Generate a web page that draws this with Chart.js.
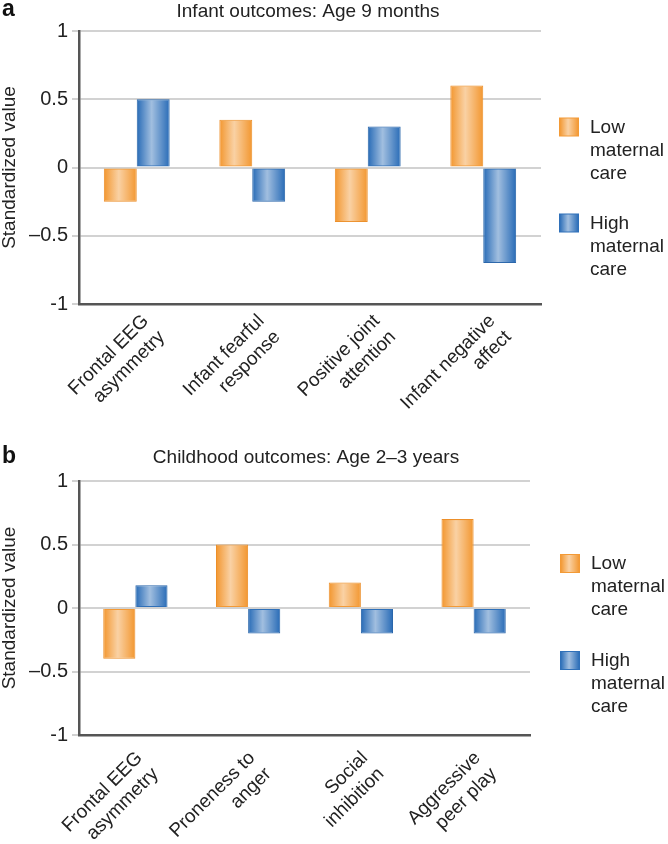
<!DOCTYPE html>
<html><head><meta charset="utf-8">
<script src="https://cdn.jsdelivr.net/npm/chart.js@4/dist/chart.umd.min.js"></script>
<style>
html,body{margin:0;padding:0;background:#fff;}
#wrap{position:relative;width:668px;height:844px;}
.c{position:absolute;left:0;width:668px;}
</style></head><body>
<div id="wrap">
<div class="c" style="top:0;height:440px"><canvas id="ca"></canvas></div>
<div class="c" style="top:440px;height:404px"><canvas id="cb"></canvas></div>
</div>
<script>
// ---- data ----
const seriesNames = ['Low maternal care', 'High maternal care'];
const seriesLegendLines = [['Low', 'maternal', 'care'], ['High', 'maternal', 'care']];
const infantCategories = [['Frontal EEG', 'asymmetry'], ['Infant fearful', 'response'], ['Positive joint', 'attention'], ['Infant negative', 'affect']];
const infantLow = [-0.25, 0.35, -0.4, 0.6];
const infantHigh = [0.5, -0.25, 0.3, -0.7];
const childCategories = [['Frontal EEG', 'asymmetry'], ['Proneness to', 'anger'], ['Social', 'inhibition'], ['Aggressive', 'peer play']];
const childLow = [-0.4, 0.5, 0.2, 0.7];
const childHigh = [0.18, -0.2, -0.2, -0.2];
const yTickValues = [-1, -0.5, 0, 0.5, 1];
const yTickLabels = ['-1', '\u20130.5', '0', '0.5', '1'];
const panelTitles = ['Infant outcomes: Age 9 months', 'Childhood outcomes: Age 2\u20133 years'];
const panelLetters = ['a', 'b'];
const yAxisTitle = 'Standardized value';

// ---- styles ----
const FONT = '"Liberation Sans", Arial, Helvetica, sans-serif';
const ORANGE = '#F39A36', ORANGE_B = '#EC8F2A';
const BLUE = '#2F70B9', BLUE_B = '#2A66AA';
const TEXT = '#222222';

function shadeRect(ctx, left, top, w, h) {
  const g = ctx.createLinearGradient(left, 0, left + w, 0);
  g.addColorStop(0, 'rgba(255,255,255,0)');
  g.addColorStop(0.45, 'rgba(255,255,255,0.55)');
  g.addColorStop(1, 'rgba(255,255,255,0)');
  ctx.fillStyle = g;
  ctx.fillRect(left, top, w, h);
}

const shadePlugin = {
  id: 'barShade',
  afterDatasetsDraw(chart) {
    const ctx = chart.ctx;
    ctx.save();
    chart.data.datasets.forEach((ds, di) => {
      const meta = chart.getDatasetMeta(di);
      meta.data.forEach(el => {
        const p = el.getProps(['x', 'y', 'base', 'width'], true);
        const left = p.x - p.width / 2 + 1;
        const top = Math.min(p.y, p.base) + 1;
        const h = Math.abs(p.base - p.y) - 2;
        if (h > 0) shadeRect(ctx, left, top, p.width - 2, h);
      });
    });
    ctx.restore();
  }
};

const decoPlugin = {
  id: 'deco',
  afterDraw(chart, args, o) {
    const ctx = chart.ctx, ca = chart.chartArea;
    ctx.save();
    ctx.fillStyle = '#111';
    ctx.textAlign = 'left';
    ctx.textBaseline = 'alphabetic';
    ctx.font = 'bold 23px ' + FONT;
    ctx.fillText(o.letter, o.letterX, o.letterY);
    ctx.fillStyle = TEXT;
    ctx.font = o.titleSize + 'px ' + FONT;
    ctx.textAlign = 'center';
    ctx.fillText(o.title, o.titleX, o.titleY);
    const cy = (ca.top + ca.bottom) / 2;
    chart.data.datasets.forEach((ds, i) => {
      const top = cy + o.legendOffsets[i];
      const x = o.legendX;
      ctx.fillStyle = ds.backgroundColor;
      ctx.fillRect(x, top, 20, 19);
      shadeRect(ctx, x + 1, top + 1, 18, 17);
      ctx.fillStyle = TEXT;
      ctx.font = '19px ' + FONT;
      ctx.textAlign = 'left';
      ctx.textBaseline = 'middle';
      seriesLegendLines[i].forEach((line, j) => ctx.fillText(line, x + 31, top + 10 + j * 23));
    });
    ctx.restore();
  }
};

function makeChart(id, cats, low, high, deco, xAxisHeight, padTop, lblOffset, lblPad) {
  return new Chart(document.getElementById(id), {
    type: 'bar',
    data: {
      labels: cats,
      datasets: [
        { label: seriesNames[0], data: low, backgroundColor: ORANGE, borderColor: ORANGE_B, borderWidth: 1 },
        { label: seriesNames[1], data: high, backgroundColor: BLUE, borderColor: BLUE_B, borderWidth: 1 }
      ]
    },
    options: {
      responsive: true,
      maintainAspectRatio: false,
      animation: false,
      layout: { padding: { top: padTop, right: 668 - deco.plotRight, left: 0, bottom: 0 } },
      datasets: { bar: { barPercentage: 1, categoryPercentage: 0.57 } },
      plugins: {
        legend: { display: false },
        title: { display: false },
        tooltip: { enabled: false },
        deco: deco
      },
      scales: {
        x: {
          grid: { display: false },
          border: { display: true, color: '#555', width: 2.5 },
          ticks: {
            autoSkip: false, minRotation: 45, maxRotation: 45,
            color: TEXT, font: { family: FONT, size: 19 }, padding: lblPad, labelOffset: lblOffset
          },
          afterFit(s) { s.height = xAxisHeight; }
        },
        y: {
          min: -1, max: 1,
          afterBuildTicks(s) { s.ticks = yTickValues.map(v => ({ value: v })); },
          grid: { color: '#d2d2d2', lineWidth: 2, tickLength: 7, drawTicks: true },
          border: { display: true, color: '#555', width: 2.5 },
          ticks: {
            color: TEXT, font: { family: FONT, size: 20 }, padding: 4,
            callback: (v) => yTickLabels[yTickValues.indexOf(v)]
          },
          title: { display: true, text: yAxisTitle, color: TEXT, font: { family: FONT, size: 19 }, padding: { top: -2, bottom: 0 } },
          afterFit(s) { s.width = 79; }
        }
      }
    },
    plugins: [shadePlugin, decoPlugin]
  });
}

makeChart('ca', infantCategories, infantLow, infantHigh, {
  letter: panelLetters[0], letterX: 2, letterY: 16,
  title: panelTitles[0], titleSize: 19, titleX: 308, titleY: 17,
  legendX: 559, legendOffsets: [-50, 46], plotRight: 541
}, 136, 31, 9, -2);

makeChart('cb', childCategories, childLow, childHigh, {
  letter: panelLetters[1], letterX: 2, letterY: 23,
  title: panelTitles[1], titleSize: 19, titleX: 306, titleY: 23,
  legendX: 560, legendOffsets: [-54, 43], plotRight: 530
}, 109, 41, 4, 4);
</script>
</body></html>
